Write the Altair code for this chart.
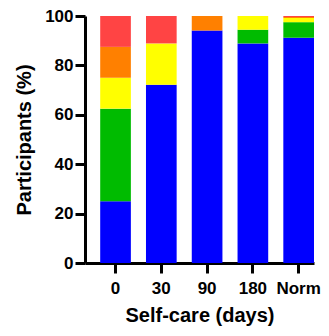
import altair as alt
import pandas as pd

groups = ["0", "30", "90", "180", "Norm"]
levels = ["blue", "green", "yellow", "orange", "red"]
level_colors = ["#0000FF", "#00BB00", "#FFFF00", "#FF8000", "#FF4444"]
blue = [25.0, 72.2, 94.1, 88.9, 91.2]
green = [37.5, 0.0, 0.0, 5.55, 6.3]
yellow = [12.5, 16.7, 0.0, 5.55, 1.7]
orange = [12.5, 0.0, 5.9, 0.0, 0.4]
red = [12.5, 11.1, 0.0, 0.0, 0.4]

series = [blue, green, yellow, orange, red]
rows = []
for li, (lvl, vals) in enumerate(zip(levels, series)):
    for g, v in zip(groups, vals):
        rows.append({"group": g, "level": lvl, "order": li, "value": v})
df = pd.DataFrame(rows)

font = "Liberation Sans"

chart = alt.Chart(df).mark_bar(strokeWidth=0).encode(
    x=alt.X("group:N", sort=groups,
            scale=alt.Scale(paddingInner=0.33, paddingOuter=0.166, align=1),
            axis=alt.Axis(title="Self-care (days)", labelAngle=0, labelFont=font,
                          labelFontSize=17, labelFontWeight="bold", labelColor="black",
                          labelPadding=7,
                          titleFont=font, titleFontSize=20, titleFontWeight="bold",
                          titleColor="black", titlePadding=9,
                          domainColor="black", domainWidth=3,
                          tickColor="black", tickWidth=3, tickSize=10)),
    y=alt.Y("value:Q", stack="zero",
            scale=alt.Scale(domain=[0, 100], nice=False),
            axis=alt.Axis(title="Participants (%)", values=[0, 20, 40, 60, 80, 100],
                          grid=False, labelFont=font, labelFontSize=17,
                          labelFontWeight="bold", labelColor="black", labelPadding=2,
                          titleFont=font, titleFontSize=20, titleFontWeight="bold",
                          titleColor="black", titlePadding=10,
                          domainColor="black", domainWidth=3,
                          tickColor="black", tickWidth=3, tickSize=10)),
    color=alt.Color("level:N", sort=levels,
                    scale=alt.Scale(domain=levels, range=level_colors), legend=None),
    order=alt.Order("order:Q", sort="ascending"),
).properties(
    width=229, height=247,
    autosize=alt.AutoSizeParams(type="none"),
    padding={"left": 77, "top": 8, "right": 7, "bottom": 65},
).configure_view(stroke=None)

chart.save("out.html", embed_options={"renderer": "svg", "actions": False})
